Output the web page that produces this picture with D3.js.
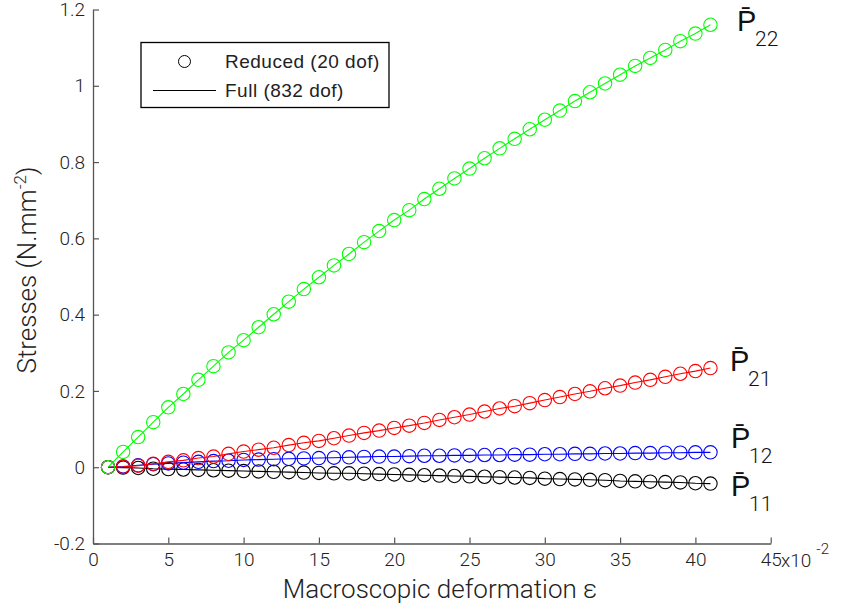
<!DOCTYPE html>
<html><head><meta charset="utf-8">
<script src="https://cdn.jsdelivr.net/npm/d3@7"></script>
<style>
body{margin:0;background:#fff;}
svg{display:block;font-family:Roboto,"Liberation Sans",sans-serif;font-weight:300;}
</style></head>
<body><svg id="c" width="842" height="613"></svg>
<script>
const xs = d3.range(1, 42);
const P22 = [0,0.040,0.079,0.118,0.157,0.192,0.229,0.265,0.301,0.333,0.367,0.401,0.434,0.467,0.498,0.529,0.559,0.590,0.619,0.648,0.674,0.703,0.730,0.757,0.783,0.810,0.836,0.861,0.886,0.911,0.935,0.960,0.983,1.006,1.029,1.052,1.073,1.094,1.117,1.137,1.160];
const P21 = [0,0.001,0.004,0.009,0.014,0.018,0.024,0.028,0.035,0.041,0.046,0.051,0.058,0.064,0.069,0.076,0.083,0.090,0.096,0.103,0.109,0.116,0.124,0.131,0.138,0.146,0.154,0.160,0.168,0.176,0.184,0.192,0.199,0.207,0.214,0.222,0.229,0.237,0.245,0.252,0.260];
const P12 = [0,0.002,0.005,0.008,0.010,0.012,0.014,0.016,0.017,0.019,0.020,0.021,0.022,0.023,0.024,0.025,0.026,0.027,0.028,0.028,0.029,0.030,0.030,0.031,0.031,0.032,0.032,0.033,0.033,0.034,0.034,0.035,0.035,0.036,0.036,0.037,0.037,0.038,0.038,0.039,0.039];
const P11 = [0,-0.001,-0.002,-0.004,-0.005,-0.006,-0.007,-0.008,-0.009,-0.010,-0.011,-0.012,-0.013,-0.014,-0.015,-0.016,-0.016,-0.017,-0.018,-0.019,-0.020,-0.021,-0.022,-0.023,-0.024,-0.025,-0.026,-0.027,-0.028,-0.030,-0.031,-0.032,-0.033,-0.034,-0.036,-0.037,-0.038,-0.039,-0.040,-0.042,-0.043];
const seriesNames = ["11","12","21","22"];
const seriesColors = ["#000000","#0000ff","#ff0000","#00ff00"];
const seriesData = [P11, P12, P21, P22];
const xTicks = [0,5,10,15,20,25,30,35,40,45];
const yTicks = [-0.2,0,0.2,0.4,0.6,0.8,1,1.2];
const yTickLabels = ["-0.2","0","0.2","0.4","0.6","0.8","1","1.2"];
const legendLabels = ["Reduced (20 dof)","Full (832 dof)"];

const svg = d3.select("#c");
const x = d3.scaleLinear().domain([0,45]).range([93,770.7]);
const y = d3.scaleLinear().domain([-0.2,1.2]).range([543.5,9.5]);
const axisColor = "#555";
const textColor = "#222";

// axes
const gx = svg.append("g").attr("transform","translate(0,543.5)")
  .call(d3.axisBottom(x).tickValues(xTicks).tickSize(-6).tickSizeOuter(0).tickPadding(9).tickFormat(d=>d));
const gy = svg.append("g").attr("transform","translate(93,0)")
  .call(d3.axisLeft(y).tickValues(yTicks).tickSize(-6).tickSizeOuter(0).tickPadding(8).tickFormat((d,i)=>yTickLabels[i]));
[gx,gy].forEach(g=>{
  g.select(".domain").attr("stroke",axisColor).attr("stroke-width",1.3);
  g.selectAll(".tick line").attr("stroke",axisColor).attr("stroke-width",1.2);
  g.selectAll(".tick text").attr("fill",textColor).attr("font-size",19)
    .attr("font-family","Roboto,'Liberation Sans',sans-serif").attr("font-weight",300);
});
gx.selectAll(".tick text").attr("dy","0.71em");
// exponent
svg.append("text").attr("x",781).attr("y",566.5).attr("fill",textColor).attr("font-size",19)
  .text("x10").append("tspan").attr("dy",-13).attr("dx",5).attr("font-size",15).text("-2");

// series
const line = d3.line().x((d,i)=>x(xs[i])).y(d=>y(d));
seriesData.forEach((data,k)=>{
  const g = svg.append("g");
  g.append("path").datum(data).attr("d",line).attr("fill","none")
    .attr("stroke",seriesColors[k]).attr("stroke-width",1.1);
  g.selectAll("circle").data(data).join("circle")
    .attr("cx",(d,i)=>x(xs[i])).attr("cy",d=>y(d)).attr("r",6.7)
    .attr("fill","none").attr("stroke",seriesColors[k]).attr("stroke-width",1.1);
});

// series labels
const labelPos = {"22":[737,31],"21":[730,371],"12":[731,448],"11":[731,496]};
seriesNames.forEach(n=>{
  const p = labelPos[n];
  const t = svg.append("text").attr("fill","#111").attr("x",p[0]).attr("y",p[1]).attr("font-size",29);
  t.append("tspan").text("P\u0304");
  t.append("tspan").attr("x",p[0]+18).attr("y",p[1]+15).attr("font-size",21).text(n);
});

// legend
svg.append("rect").attr("x",141).attr("y",42.5).attr("width",248).attr("height",65)
  .attr("fill","#fff").attr("stroke","#000").attr("stroke-width",1.3);
svg.append("circle").attr("cx",184.5).attr("cy",61.5).attr("r",6).attr("fill","none").attr("stroke","#000").attr("stroke-width",1);
svg.append("line").attr("x1",153).attr("x2",216).attr("y1",90.5).attr("y2",90.5).attr("stroke","#000").attr("stroke-width",1);
legendLabels.forEach((l,i)=>{
  svg.append("text").attr("x",225).attr("y",68+i*29).attr("font-size",19)
    .attr("font-family","'Liberation Sans',Arial,sans-serif").attr("font-weight",400)
    .attr("letter-spacing",0.5).attr("fill",textColor).text(l);
});

// axis titles
svg.append("text").attr("x",440).attr("y",598).attr("text-anchor","middle").attr("font-size",26).attr("fill",textColor)
  .text("Macroscopic deformation \u03b5");
const yt = svg.append("text").attr("transform","translate(36,270) rotate(-90)").attr("text-anchor","middle")
  .attr("font-size",26).attr("fill",textColor);
yt.append("tspan").text("Stresses (N.mm");
yt.append("tspan").attr("dy",-10).attr("font-size",17).text("-2");
yt.append("tspan").attr("dy",10).text(")");
</script></body></html>
